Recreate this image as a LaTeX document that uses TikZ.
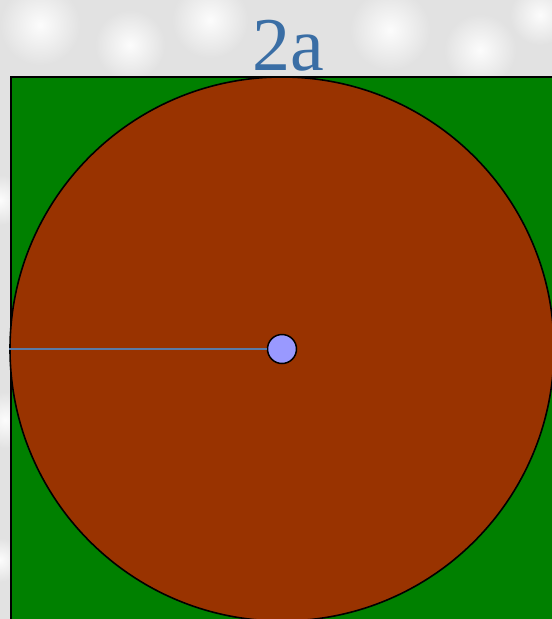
\documentclass[tikz,border=0pt]{standalone}
\usepackage{fontspec}
\setmainfont{Liberation Serif}
\definecolor{bggray}{HTML}{E2E2E2}
\definecolor{sqgreen}{HTML}{008000}
\definecolor{discbrown}{HTML}{993300}
\definecolor{dotblue}{HTML}{9999FF}
\definecolor{radline}{HTML}{5A7BA8}
\definecolor{titleblue}{HTML}{3A6EA5}
\tikzset{
  outline/.style={draw=black, line width=1.6pt},
  blob/.style={shading=radial, inner color=white!90!bggray, outer color=bggray},
}
\begin{document}
\begin{tikzpicture}[x=1pt,y=-1pt]
\useasboundingbox (0,0) rectangle (552,619);
\clip (0,0) rectangle (552,619);
\fill[bggray] (0,0) rectangle (552,619);
\foreach \x/\y/\r in {40/25/40, 130/45/35, 210/20/38, 390/30/40, 480/50/36, 540/15/30, 0/200/25, 5/420/28, 0/560/22}
  \shade[blob] (\x,\y) circle (\r);
\node[anchor=base, text=titleblue, font=\fontsize{76}{76}\selectfont, inner sep=0pt] (title) at (288,70) {2a};
\node[outline, fill=sqgreen, anchor=north west, minimum width=560pt, minimum height=560pt, inner sep=0pt] (square) at (10,76) {};
\node[outline, fill=discbrown, circle, minimum size=544pt, inner sep=0pt] (disc) at (282,349) {};
\coordinate (left) at (disc.west);
\node[draw=black, line width=1.5pt, fill=dotblue, circle, minimum size=29pt, inner sep=0pt] (center) at (282,349) {};
\draw[radline, line width=2pt] (left) -- (center.west);
\end{tikzpicture}
\end{document}
